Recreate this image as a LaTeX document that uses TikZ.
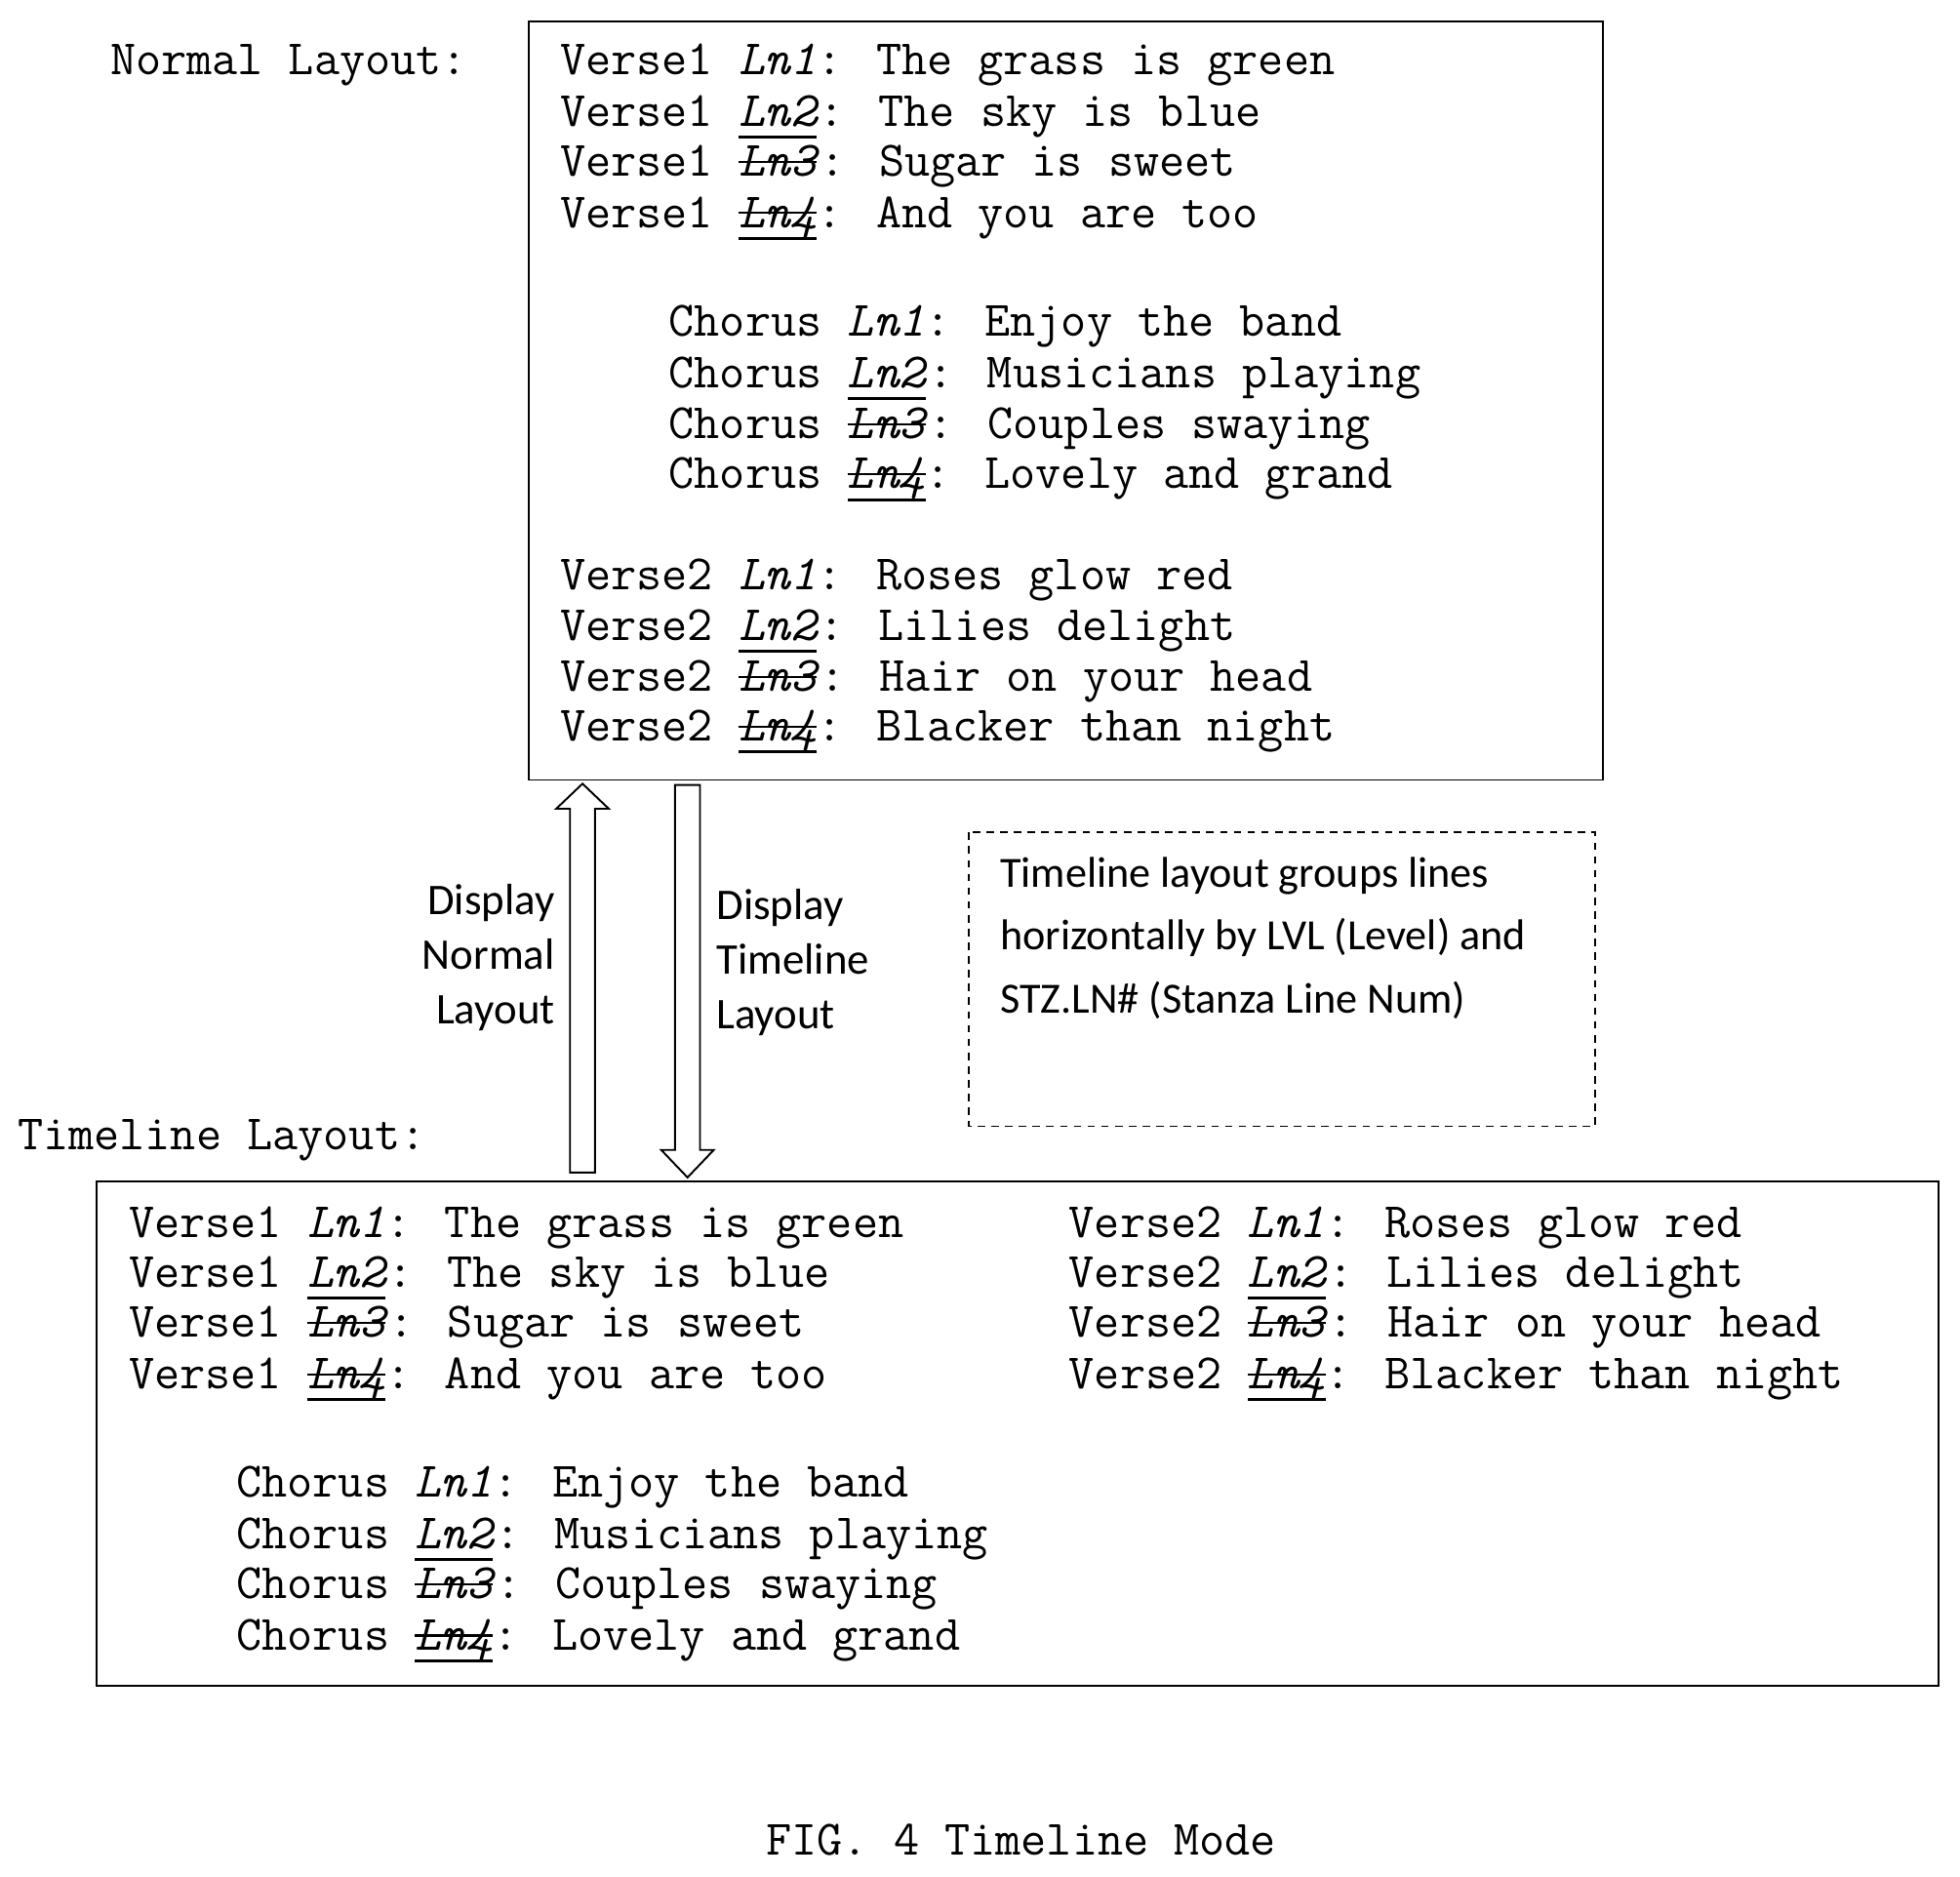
\documentclass[tikz,border=0pt]{standalone}
\usepackage{fontspec}
\newfontfamily\carlitofont{Carlito}
\newcommand\LnU[1]{\makebox[0pt][l]{\rule[-0.25em]{1.575em}{0.06em}}\textit{#1}}
\newcommand\LnS[1]{\makebox[0pt][l]{\rule[0.27em]{1.575em}{0.045em}}\textit{#1}}
\newcommand\LnSU[1]{\makebox[0pt][l]{\rule[-0.25em]{1.575em}{0.06em}}\makebox[0pt][l]{\rule[0.27em]{1.575em}{0.045em}}\textit{#1}}
\begin{document}
\begin{tikzpicture}[x=1pt,y=-1pt,
  mono/.style={anchor=base west,inner sep=0,font=\ttfamily\fontsize{39.6}{40}\selectfont},
  sans/.style={inner sep=0,font=\carlitofont\fontsize{35}{44}\selectfont},
  box/.style={draw,line width=1.5pt},
  barrow/.style={draw,line width=1.5pt,fill=white}]
\useasboundingbox (0,0) rectangle (1568,1501);
\node[mono] (nl) at (88,60) {Normal Layout:};
\node[mono] (tl) at (14,920) {Timeline Layout:};
\draw[box] (423,17) rectangle (1282,624);
\draw[box] (77,945) rectangle (1551,1349);
\draw[box,dashed,line width=1.3pt,dash pattern=on 6pt off 5pt] (775,666) rectangle (1276,901);
% normal layout
\node[mono] (a1) at (448,60) {Verse1 \textit{Ln1}: The grass is green};
\node[mono] (a2) at (448,101) {Verse1 \LnU{Ln2}: The sky is blue};
\node[mono] (a3) at (448,141) {Verse1 \LnS{Ln3}: Sugar is sweet};
\node[mono] (a4) at (448,182) {Verse1 \LnSU{Ln4}: And you are too};
\node[mono] (b1) at (535,269) {Chorus \textit{Ln1}: Enjoy the band};
\node[mono] (b2) at (535,310) {Chorus \LnU{Ln2}: Musicians playing};
\node[mono] (b3) at (535,351) {Chorus \LnS{Ln3}: Couples swaying};
\node[mono] (b4) at (535,391) {Chorus \LnSU{Ln4}: Lovely and grand};
\node[mono] (c1) at (448,472) {Verse2 \textit{Ln1}: Roses glow red};
\node[mono] (c2) at (448,512) {Verse2 \LnU{Ln2}: Lilies delight};
\node[mono] (c3) at (448,553) {Verse2 \LnS{Ln3}: Hair on your head};
\node[mono] (c4) at (448,593) {Verse2 \LnSU{Ln4}: Blacker than night};
% timeline layout
\node[mono] (d1) at (103,990) {Verse1 \textit{Ln1}: The grass is green};
\node[mono] (d2) at (103,1030) {Verse1 \LnU{Ln2}: The sky is blue};
\node[mono] (d3) at (103,1070) {Verse1 \LnS{Ln3}: Sugar is sweet};
\node[mono] (d4) at (103,1111) {Verse1 \LnSU{Ln4}: And you are too};
\node[mono] (e1) at (855,990) {Verse2 \textit{Ln1}: Roses glow red};
\node[mono] (e2) at (855,1030) {Verse2 \LnU{Ln2}: Lilies delight};
\node[mono] (e3) at (855,1070) {Verse2 \LnS{Ln3}: Hair on your head};
\node[mono] (e4) at (855,1111) {Verse2 \LnSU{Ln4}: Blacker than night};
\node[mono] (f1) at (189,1198) {Chorus \textit{Ln1}: Enjoy the band};
\node[mono] (f2) at (189,1239) {Chorus \LnU{Ln2}: Musicians playing};
\node[mono] (f3) at (189,1279) {Chorus \LnS{Ln3}: Couples swaying};
\node[mono] (f4) at (189,1320) {Chorus \LnSU{Ln4}: Lovely and grand};
% arrows
\draw[barrow] (456,938) -- (456,647) -- (445,647) -- (466,627) -- (487,647) -- (476,647) -- (476,938) -- cycle;
\draw[barrow] (540,628) -- (540,920) -- (529,920) -- (550,942) -- (571,920) -- (560,920) -- (560,628) -- cycle;
\node[sans,anchor=east,align=right] (dn) at (444,766) {Display\\Normal\\Layout};
\node[sans,anchor=west,align=left] (dt) at (573,770) {Display\\Timeline\\Layout};
\node[sans,anchor=north west,align=left,font=\carlitofont\fontsize{34.5}{50}\selectfont] (note) at (800,686) {Timeline layout groups lines\\horizontally by LVL (Level) and\\STZ.LN\# (Stanza Line Num)};
\node[mono,anchor=base] (cap) at (817,1484) {FIG. 4 Timeline Mode};
\end{tikzpicture}
\end{document}
